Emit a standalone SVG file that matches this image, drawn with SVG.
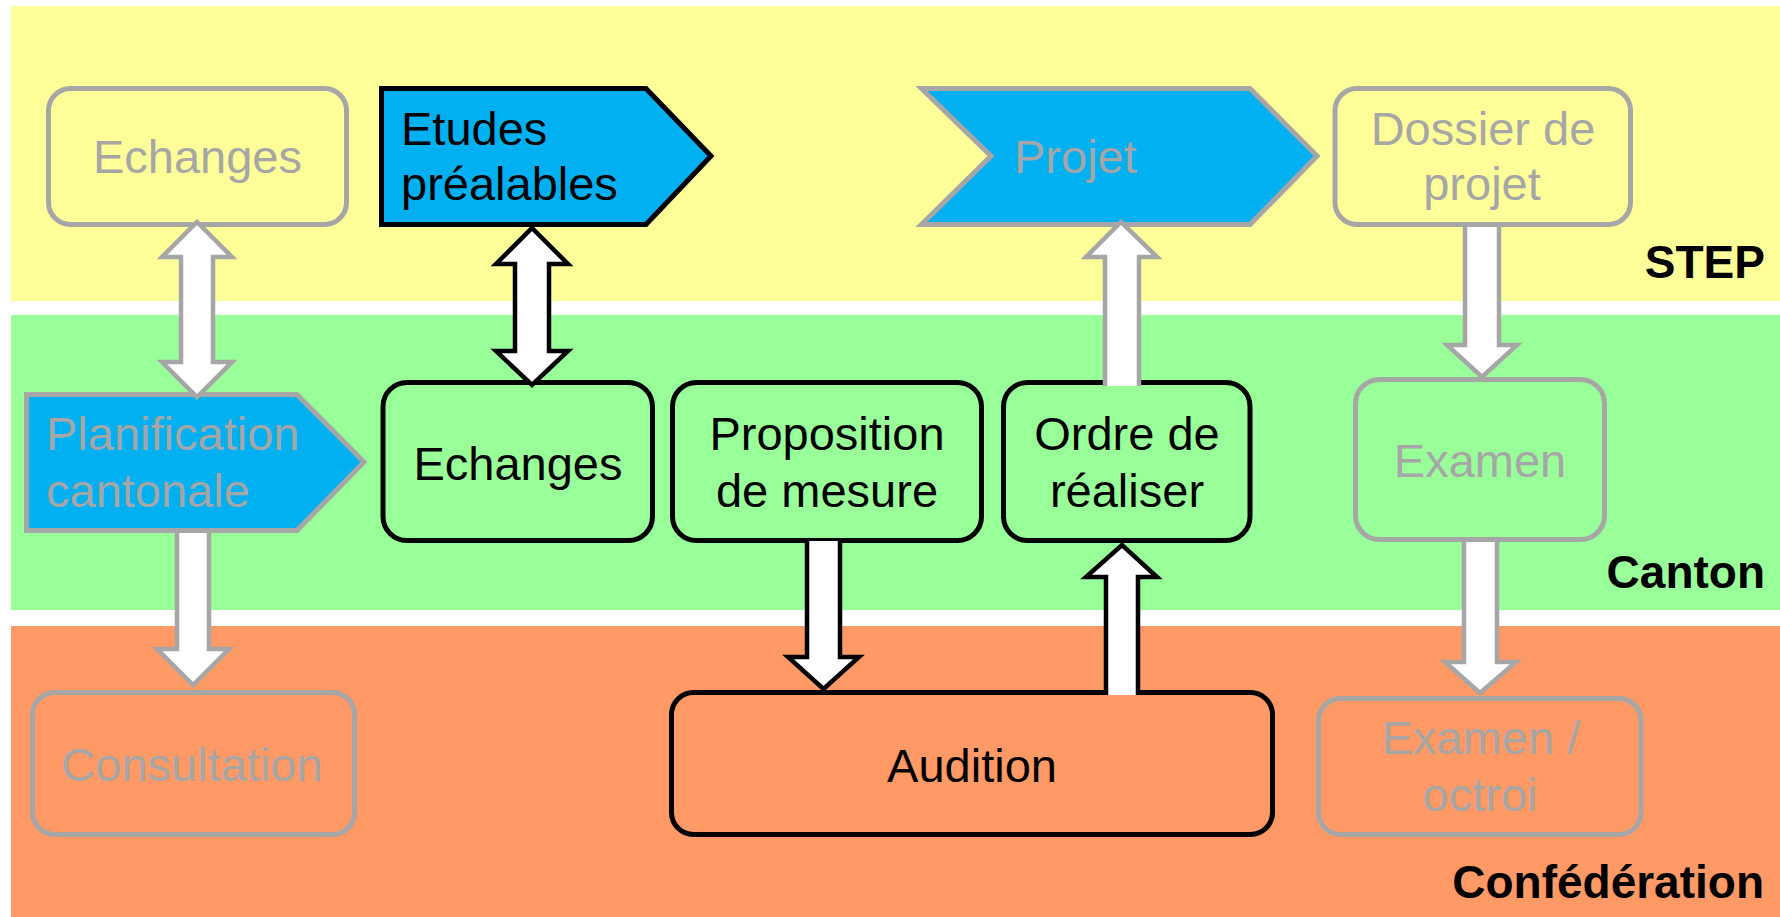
<svg xmlns="http://www.w3.org/2000/svg" width="1780" height="917" viewBox="0 0 1780 917">
<style>
.t{font-family:"Liberation Sans",Arial,sans-serif;font-size:47px}
.c{text-anchor:middle}
.k{fill:#000}
.g{fill:#A6A6A6}
.lbl{font-family:"Liberation Sans",Arial,sans-serif;font-size:46px;font-weight:bold;text-anchor:end;fill:#000}
.bk{stroke:#000;stroke-width:5;stroke-linejoin:miter}
.gr{stroke:#A6A6A6;stroke-width:5;stroke-linejoin:miter}
.af{fill:#fff;stroke:none}
.ao{fill:none;stroke-width:4.5;stroke-linejoin:miter;stroke-miterlimit:10}
.ab{stroke:#000}
.ag{stroke:#A6A6A6}
</style>
<rect width="1780" height="917" fill="#fff"/>
<g id="bands">
<rect x="11" y="6" width="1769" height="295" fill="#FFFF99"/>
<rect x="11" y="315" width="1769" height="295" fill="#99FF99"/>
<rect x="11" y="626" width="1769" height="291" fill="#FF9966"/>
<text class="lbl" x="1765" y="278">STEP</text>
<text class="lbl" x="1765" y="588">Canton</text>
<text class="lbl" x="1764" y="898">Confédération</text>
</g>
<g id="echanges-step">
<rect x="48.5" y="88.5" width="298" height="136" rx="22" fill="#FFFF99" class="gr"/>
<text class="t c g" x="197.5" y="173">Echanges</text>
</g>
<g id="etudes">
<polygon points="381.5,88.5 646,88.5 711,156 646,224.5 381.5,224.5" fill="#00B0F0" class="bk"/>
<text class="t k" x="401" y="145">Etudes</text>
<text class="t k" x="401" y="200">préalables</text>
</g>
<g id="projet">
<polygon points="921.5,88.5 1250,88.5 1317,156 1250,224.5 921.5,224.5 991,156" fill="#00B0F0" class="gr"/>
<text class="t g" x="1014" y="173">Projet</text>
</g>
<g id="dossier">
<rect x="1335" y="88.5" width="295.5" height="136" rx="22" fill="#FFFF99" class="gr"/>
<text class="t c g" x="1483" y="145">Dossier de</text>
<text class="t c g" x="1482" y="200">projet</text>
</g>
<g id="planification">
<polygon points="26.5,394.5 297,394.5 364,462 297,530.5 26.5,530.5" fill="#00B0F0" class="gr"/>
<text class="t g" x="46" y="450">Planification</text>
<text class="t g" x="46" y="507">cantonale</text>
</g>
<g id="echanges-canton">
<rect x="383" y="382.5" width="269.5" height="158" rx="24" fill="#99FF99" class="bk"/>
<text class="t c k" x="518" y="480">Echanges</text>
</g>
<g id="proposition">
<rect x="672.5" y="382.5" width="309" height="158" rx="24" fill="#99FF99" class="bk"/>
<text class="t c k" x="827" y="450">Proposition</text>
<text class="t c k" x="827" y="507">de mesure</text>
</g>
<g id="ordre">
<rect x="1003.5" y="382.5" width="246.5" height="158" rx="24" fill="#99FF99" class="bk"/>
<text class="t c k" x="1127" y="450">Ordre de</text>
<text class="t c k" x="1127" y="507">réaliser</text>
</g>
<g id="examen">
<rect x="1355.5" y="379.5" width="249" height="160" rx="24" fill="#99FF99" class="gr"/>
<text class="t c g" x="1480" y="477">Examen</text>
</g>
<g id="consultation">
<rect x="32.5" y="692.5" width="322" height="142" rx="22" fill="#FF9966" class="gr"/>
<text class="t c g" x="192" y="781">Consultation</text>
</g>
<g id="audition">
<rect x="671.5" y="692.5" width="601" height="142" rx="22" fill="#FF9966" class="bk"/>
<text class="t c k" x="972" y="782">Audition</text>
</g>
<g id="examen-octroi">
<rect x="1318.5" y="698.5" width="322.5" height="136" rx="22" fill="#FF9966" class="gr"/>
<text class="t c g" x="1481" y="754">Examen /</text>
<text class="t c g" x="1480" y="811">octroi</text>
</g>
<g id="connectors">
<polygon class="af" points="197,222 232,257 213,257 213,362 232,362 197,397 162,362 181,362 181,257 162,257"/>
<polygon class="ao ag" points="197,222 232,257 213,257 213,362 232,362 197,397 162,362 181,362 181,257 162,257"/>
<polygon class="af" points="532,228 568,264 549,264 549,351 568,351 532,385 496,351 515,351 515,264 496,264"/>
<polygon class="ao ab" points="532,228 568,264 549,264 549,351 568,351 532,385 496,351 515,351 515,264 496,264"/>
<polygon class="af" points="177,533 177,649 157,649 193,685 229,649 209,649 209,533"/>
<polyline class="ao ag" points="177,533 177,649 157,649 193,685 229,649 209,649 209,533"/>
<polygon class="af" points="1105,386 1105,257 1086,257 1121,222 1157,257 1139,257 1139,386"/>
<polyline class="ao ag" points="1105,386 1105,257 1086,257 1121,222 1157,257 1139,257 1139,386"/>
<polygon class="af" points="807,541 807,657 788,657 823.5,689 859,657 840,657 840,541"/>
<polyline class="ao ab" points="807,541 807,657 788,657 823.5,689 859,657 840,657 840,541"/>
<polygon class="af" points="1106,695 1106,577 1086,577 1122,545 1157,577 1138,577 1138,695"/>
<polyline class="ao ab" points="1106,695 1106,577 1086,577 1122,545 1157,577 1138,577 1138,695"/>
<polygon class="af" points="1465,227 1465,345 1447,345 1482,377 1517,345 1499,345 1499,227"/>
<polyline class="ao ag" points="1465,227 1465,345 1447,345 1482,377 1517,345 1499,345 1499,227"/>
<polygon class="af" points="1464,542 1464,662 1445,662 1480,693 1516,662 1497,662 1497,542"/>
<polyline class="ao ag" points="1464,542 1464,662 1445,662 1480,693 1516,662 1497,662 1497,542"/>
</g>
</svg>
